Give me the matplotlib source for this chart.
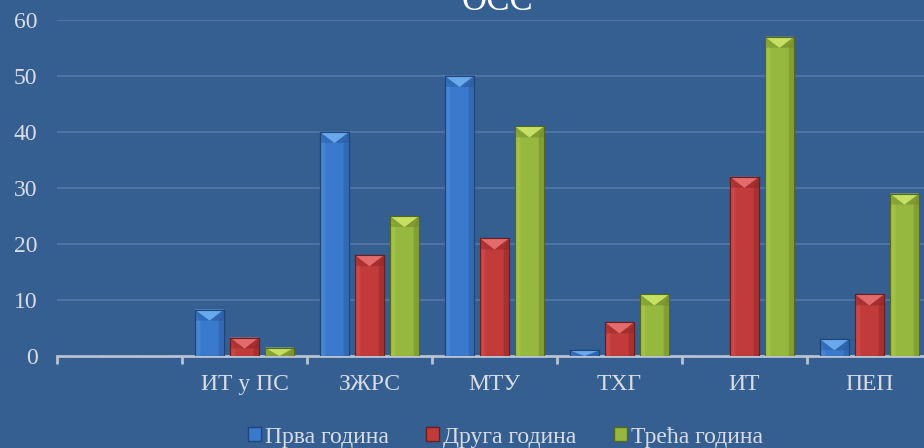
import matplotlib
matplotlib.use("Agg")
import numpy as np
import matplotlib.pyplot as plt
from matplotlib.patches import Polygon, Patch

categories = ["", "ИТ у ПС", "ЗЖРС", "МТУ", "ТХГ", "ИТ", "ПЕП"]
series_names = ["Прва година", "Друга година", "Трећа година"]
prva = [0, 8.3, 40, 50, 1, 0, 3]
druga = [0, 3.3, 18, 21, 6, 32, 11]
treca = [0, 1.5, 25, 41, 11, 57, 29]
yticks = [0, 10, 20, 30, 40, 50, 60]
title = "ОСС"

bg = "#355E91"
txt = "#D9DDE3"
grid_col = "#4F74A3"
base_cols = ["#3A7ACD", "#C23B3B", "#97B83E"]
light_cols = ["#6AA8EC", "#E36B6B", "#C6E063"]
dark_cols = ["#2B5EA3", "#962A2A", "#768F2D"]
edge_cols = ["#1F4578", "#6B1E1E", "#556820"]

plt.rcParams["font.family"] = ["Liberation Serif", "DejaVu Serif"]

W, H = 924, 448
fig = plt.figure(figsize=(W / 100, H / 100), dpi=100)
fig.patch.set_facecolor(bg)

left, right, bottom, top = 57, 932, 356, 20
ax = fig.add_axes([left / W, (H - bottom) / H, (right - left) / W, (bottom - top) / H])
ax.set_facecolor(bg)
ax.set_xlim(-0.5, len(categories) - 0.5)
ax.set_ylim(0, 60)

for sp in ["top", "right", "left"]:
    ax.spines[sp].set_visible(False)
ax.spines["bottom"].set_color("#B9C3D1")
ax.spines["bottom"].set_linewidth(2)

ax.set_yticks(yticks)
ax.tick_params(axis="y", length=0, pad=14, labelsize=17, labelcolor=txt)
for t in yticks[1:]:
    ax.axhline(t, color=grid_col, lw=1.5, zorder=0)

x = np.arange(len(categories))
ax.set_xticks(x)
ax.set_xticklabels(categories)
ax.tick_params(axis="x", which="major", length=0, pad=13, labelsize=17, labelcolor=txt)
ax.set_xticks(np.arange(len(categories) + 1) - 0.5, minor=True)
ax.tick_params(axis="x", which="minor", length=6, width=2, color="#B9C3D1")

bw = 0.23
step = 0.28
px_per_unit = (bottom - top) / 60.0
bevel = 11 / px_per_unit

for i, vals in enumerate([prva, druga, treca]):
    bars = ax.bar(x + (i - 1) * step, vals, width=bw, color=base_cols[i],
                  edgecolor=edge_cols[i], linewidth=0.8, zorder=3)
    for b in bars:
        h = b.get_height()
        if h <= 0:
            continue
        x0 = b.get_x()
        w = b.get_width()
        d = min(bevel, h)
        # shaded sides of the bar body
        ax.add_patch(Polygon([(x0, 0), (x0 + w * 0.18, 0), (x0 + w * 0.18, h - d), (x0, h)],
                             closed=True, color=light_cols[i], alpha=0.25, lw=0, zorder=4))
        ax.add_patch(Polygon([(x0 + w, 0), (x0 + w * 0.82, 0), (x0 + w * 0.82, h - d), (x0 + w, h)],
                             closed=True, color=dark_cols[i], alpha=0.6, lw=0, zorder=4))
        # bevelled top
        ax.add_patch(Polygon([(x0, h), (x0 + w / 2, h - d), (x0, h - d)],
                             closed=True, color=dark_cols[i], alpha=0.5, lw=0, zorder=4))
        ax.add_patch(Polygon([(x0 + w, h), (x0 + w / 2, h - d), (x0 + w, h - d)],
                             closed=True, color=dark_cols[i], alpha=0.7, lw=0, zorder=4))
        ax.add_patch(Polygon([(x0, h), (x0 + w, h), (x0 + w / 2, h - d)],
                             closed=True, color=light_cols[i], lw=0, zorder=5))
        ax.plot([x0, x0, x0 + w, x0 + w], [0, h, h, 0], color=edge_cols[i], lw=0.8, zorder=6)

handles = [Patch(facecolor=base_cols[i], edgecolor=edge_cols[i]) for i in range(3)]
fig.legend(handles, series_names, loc="center", bbox_to_anchor=(0.547, 1 - 437 / H),
           ncol=3, frameon=False, fontsize=17, labelcolor=txt,
           handlelength=0.55, handleheight=0.55, handletextpad=0.15, columnspacing=1.6)

fig.text(497 / W, 1 - 10 / H, title, ha="center", va="baseline", fontsize=25, color="white")

fig.savefig("out.png", dpi=100, facecolor=bg)
